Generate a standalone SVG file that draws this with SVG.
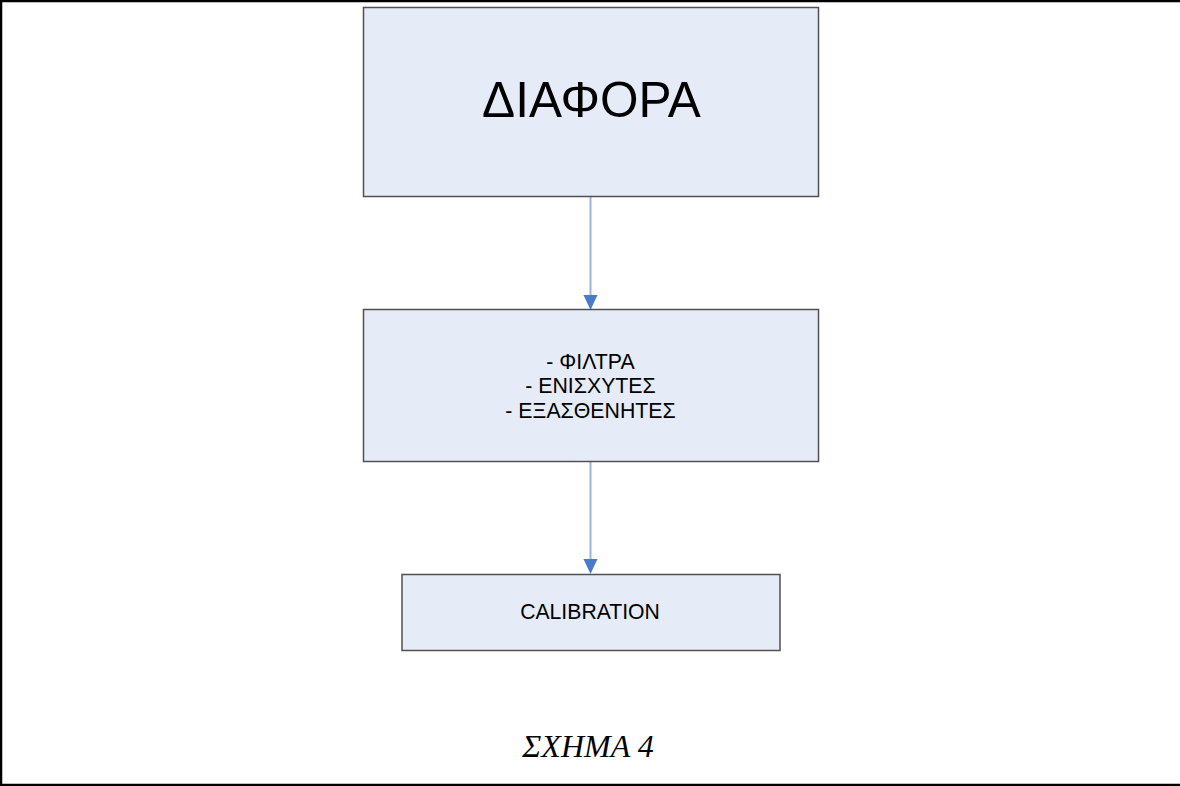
<svg xmlns="http://www.w3.org/2000/svg" width="1180" height="786" viewBox="0 0 1180 786">
<style>
.box{fill:#e6ecf7;stroke:#505050;stroke-width:1.5}
.t{font-family:"Liberation Sans",Arial,sans-serif;fill:#000;text-anchor:middle}
.conn{stroke:#9ab5dc;stroke-width:2;fill:none}
.head{fill:#4a7bc8}
.frame{stroke:#000;stroke-width:2.5;fill:none}
</style>
<rect width="1180" height="786" fill="#fff"/>
<g id="frame">
<path class="frame" d="M1180,1 H1 V785 H1180"/>
</g>
<g id="connectors">
<line class="conn" x1="590.5" y1="196" x2="590.5" y2="296"/>
<polygon class="head" points="583.5,295 597.5,295 590.5,310"/>
<line class="conn" x1="590.5" y1="461" x2="590.5" y2="560"/>
<polygon class="head" points="583.5,559 597.5,559 590.5,574"/>
</g>
<g id="node-diafora">
<rect class="box" x="363.5" y="7.5" width="455" height="189"/>
<text class="t" x="591.5" y="117" font-size="49.5">ΔΙΑΦΟΡΑ</text>
</g>
<g id="node-filtra">
<rect class="box" x="363.5" y="309.5" width="455" height="152"/>
<text class="t" x="590" font-size="21.3"><tspan x="590.5" y="368.5">- ΦΙΛΤΡΑ</tspan><tspan x="590.5" y="393">- ΕΝΙΣΧΥΤΕΣ</tspan><tspan x="590.5" y="417.5">- ΕΞΑΣΘΕΝΗΤΕΣ</tspan></text>
</g>
<g id="node-calibration">
<rect class="box" x="402" y="574.5" width="378" height="76"/>
<text class="t" x="590" y="619" font-size="21.2">CALIBRATION</text>
</g>
<g id="caption">
<text x="588" y="757" font-family="'Liberation Serif','Times New Roman',serif" font-style="italic" font-size="32" text-anchor="middle" fill="#000">ΣΧΗΜΑ 4</text>
</g>
</svg>
